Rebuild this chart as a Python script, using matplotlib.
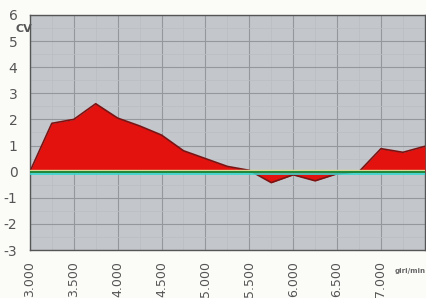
import matplotlib
matplotlib.use("Agg")
import matplotlib.pyplot as plt
from matplotlib.ticker import MultipleLocator

rpm = [3000, 3250, 3500, 3750, 4000, 4250, 4500, 4750, 5000, 5250, 5500,
       5750, 6000, 6250, 6500, 6750, 7000, 7250, 7500]
cv = [0.0, 1.85, 2.0, 2.6, 2.05, 1.75, 1.4, 0.8, 0.5, 0.2, 0.05,
      -0.42, -0.12, -0.35, -0.08, 0.0, 0.88, 0.74, 0.97]
xticks = [3000, 3500, 4000, 4500, 5000, 5500, 6000, 6500, 7000]
xlabels = ["3.000", "3.500", "4.000", "4.500", "5.000", "5.500", "6.000", "6.500", "7.000"]
yticks = [-3, -2, -1, 0, 1, 2, 3, 4, 5, 6]

fig = plt.figure(figsize=(4.27, 2.98), dpi=100)
fig.patch.set_facecolor("#fbfbf8")
ax = fig.add_axes([0.070, 0.161, 0.925, 0.789])
ax.set_facecolor("#c3c7cb")

ax.set_xlim(3000, 7500)
ax.set_ylim(-3, 6)
ax.xaxis.set_minor_locator(MultipleLocator(250))
ax.yaxis.set_minor_locator(MultipleLocator(0.5))
ax.grid(which="major", color="#94989c", linewidth=0.8)
ax.grid(which="minor", color="#babec2", linewidth=0.5)
ax.set_axisbelow(True)

ax.fill_between(rpm, cv, 0, color="#e3120f", linewidth=0, zorder=3)
ax.plot(rpm, cv, color="#7a1414", linewidth=1.2, zorder=4)
ax.axhline(0.08, color="#d8d890", linewidth=1.0, zorder=4)
ax.axhline(0, color="#1f8a3a", linewidth=1.4, zorder=5)
ax.axhline(-0.09, color="#34d8d0", linewidth=1.2, zorder=5)

ax.set_xticks(xticks)
ax.set_xticklabels(xlabels, rotation=90, fontsize=9, color="#555555")
ax.set_yticks(yticks)
ax.set_yticklabels([str(v) for v in yticks], fontsize=10, color="#555555")
ax.tick_params(which="both", length=0)
ax.tick_params(axis="x", pad=8)
ax.tick_params(axis="y", pad=9)

for s in ax.spines.values():
    s.set_color("#555555")
    s.set_linewidth(1.0)

fig.text(0.036, 0.893, "CV", fontsize=8, fontweight="bold", color="#555555")
fig.text(0.925, 0.085, "giri/min", fontsize=5, fontweight="bold", color="#666666")

fig.savefig("out.png", dpi=100, facecolor=fig.get_facecolor())
